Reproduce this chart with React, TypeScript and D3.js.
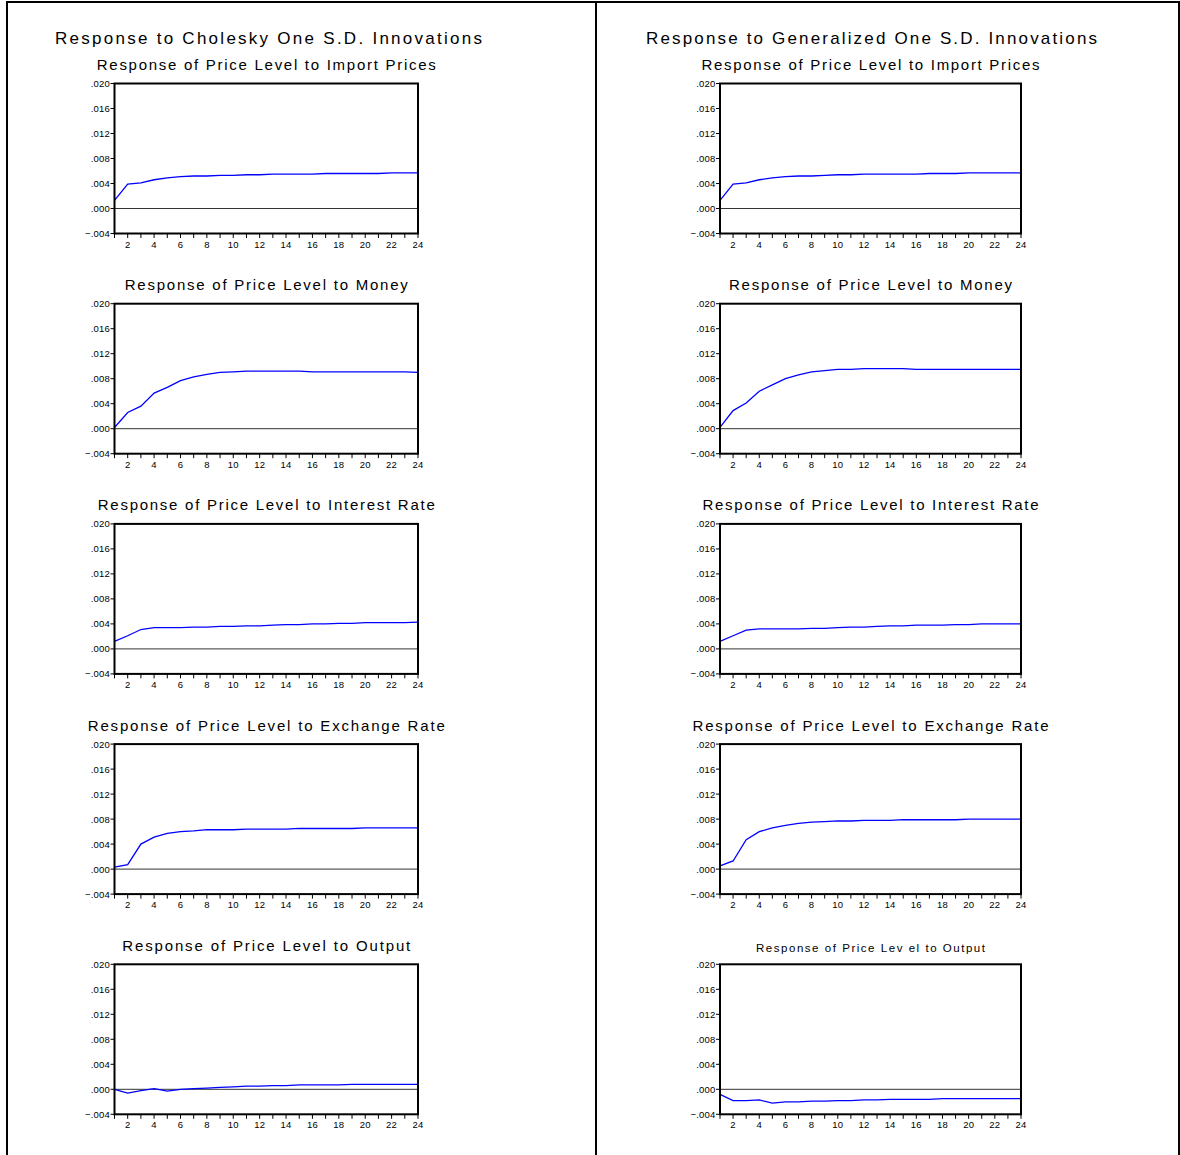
import React, { useRef, useEffect } from 'react';
import * as d3 from 'd3';

// periods and axis ticks
const periods = d3.range(1, 25);
const yTicks = [-0.004, 0, 0.004, 0.008, 0.012, 0.016, 0.02];
const xLabelTicks = [2, 4, 6, 8, 10, 12, 14, 16, 18, 20, 22, 24];

const leftHeader = 'Response to Cholesky One S.D. Innovations';
const rightHeader = 'Response to Generalized One S.D. Innovations';

const titles = [
  'Response of Price Level to Import Prices',
  'Response of Price Level to Money',
  'Response of Price Level to Interest Rate',
  'Response of Price Level to Exchange Rate',
  'Response of Price Level to Output',
];
const lastRightTitle = 'Response of Price Lev el to Output';

// Cholesky responses
const cholImport = [0.0013, 0.0039, 0.0041, 0.0046, 0.0049, 0.0051, 0.0052, 0.0052, 0.0053, 0.0053, 0.0054, 0.0054, 0.0055, 0.0055, 0.0055, 0.0055, 0.0056, 0.0056, 0.0056, 0.0056, 0.0056, 0.0057, 0.0057, 0.0057];
const cholMoney = [0.0002, 0.0026, 0.0036, 0.0057, 0.0066, 0.0077, 0.0083, 0.0087, 0.0090, 0.0091, 0.0092, 0.0092, 0.0092, 0.0092, 0.0092, 0.0091, 0.0091, 0.0091, 0.0091, 0.0091, 0.0091, 0.0091, 0.0091, 0.0090];
const cholInterest = [0.0012, 0.0021, 0.0031, 0.0034, 0.0034, 0.0034, 0.0035, 0.0035, 0.0036, 0.0036, 0.0037, 0.0037, 0.0038, 0.0039, 0.0039, 0.0040, 0.0040, 0.0041, 0.0041, 0.0042, 0.0042, 0.0042, 0.0042, 0.0043];
const cholExchange = [0.0003, 0.0007, 0.0040, 0.0051, 0.0057, 0.0060, 0.0061, 0.0063, 0.0063, 0.0063, 0.0064, 0.0064, 0.0064, 0.0064, 0.0065, 0.0065, 0.0065, 0.0065, 0.0065, 0.0066, 0.0066, 0.0066, 0.0066, 0.0066];
const cholOutput = [0.0000, -0.0006, -0.0002, 0.0001, -0.0003, 0.0000, 0.0001, 0.0002, 0.0003, 0.0004, 0.0005, 0.0005, 0.0006, 0.0006, 0.0007, 0.0007, 0.0007, 0.0007, 0.0008, 0.0008, 0.0008, 0.0008, 0.0008, 0.0008];

// Generalized responses
const genImport = [0.0013, 0.0039, 0.0041, 0.0046, 0.0049, 0.0051, 0.0052, 0.0052, 0.0053, 0.0054, 0.0054, 0.0055, 0.0055, 0.0055, 0.0055, 0.0055, 0.0056, 0.0056, 0.0056, 0.0057, 0.0057, 0.0057, 0.0057, 0.0057];
const genMoney = [0.0002, 0.0029, 0.0041, 0.0060, 0.0070, 0.0080, 0.0086, 0.0091, 0.0093, 0.0095, 0.0095, 0.0096, 0.0096, 0.0096, 0.0096, 0.0095, 0.0095, 0.0095, 0.0095, 0.0095, 0.0095, 0.0095, 0.0095, 0.0095];
const genInterest = [0.0012, 0.0021, 0.0030, 0.0032, 0.0032, 0.0032, 0.0032, 0.0033, 0.0033, 0.0034, 0.0035, 0.0035, 0.0036, 0.0037, 0.0037, 0.0038, 0.0038, 0.0038, 0.0039, 0.0039, 0.0040, 0.0040, 0.0040, 0.0040];
const genExchange = [0.0005, 0.0013, 0.0047, 0.0060, 0.0066, 0.0070, 0.0073, 0.0075, 0.0076, 0.0077, 0.0077, 0.0078, 0.0078, 0.0078, 0.0079, 0.0079, 0.0079, 0.0079, 0.0079, 0.0080, 0.0080, 0.0080, 0.0080, 0.0080];
const genOutput = [-0.0008, -0.0018, -0.0018, -0.0017, -0.0022, -0.0020, -0.0020, -0.0019, -0.0019, -0.0018, -0.0018, -0.0017, -0.0017, -0.0016, -0.0016, -0.0016, -0.0016, -0.0015, -0.0015, -0.0015, -0.0015, -0.0015, -0.0015, -0.0015];

const leftSeries = [cholImport, cholMoney, cholInterest, cholExchange, cholOutput];
const rightSeries = [genImport, genMoney, genInterest, genExchange, genOutput];

const W = 1180, H = 1155;
const FONT = 'Arial, "Liberation Sans", sans-serif';

const App = () => {
  const ref = useRef(null);

  useEffect(() => {
    const svg = d3.select(ref.current);
    svg.selectAll('*').remove();

    // outer frame
    const frame = svg.append('g').attr('stroke', '#000').attr('stroke-width', 2);
    frame.append('line').attr('x1', 6).attr('x2', 1179).attr('y1', 2).attr('y2', 2);
    frame.append('line').attr('x1', 7).attr('x2', 7).attr('y1', 1).attr('y2', H);
    frame.append('line').attr('x1', 596).attr('x2', 596).attr('y1', 1).attr('y2', H);
    frame.append('line').attr('x1', 1179).attr('x2', 1179).attr('y1', 1).attr('y2', H);

    const columns = [
      { x0: 114.5, x1: 418, header: leftHeader, hx: 55, hw: 427, series: leftSeries, tw: [339, 283, 337, 357, 288] },
      { x0: 720, x1: 1021, header: rightHeader, hx: 646, hw: 451, series: rightSeries, tw: [338, 283, 336, 356, 229] },
    ];

    columns.forEach((col, ci) => {
      svg.append('text')
        .attr('x', col.hx).attr('y', 44)
        .attr('font-family', FONT).attr('font-size', 17)
        .attr('textLength', col.hw).attr('lengthAdjust', 'spacing')
        .text(col.header);

      col.series.forEach((values, ri) => {
        const top = 83.5 + ri * 220.2;
        const bottom = top + 150;
        const x = d3.scaleLinear().domain([1, 24]).range([col.x0, col.x1]);
        const y = d3.scaleLinear().domain([-0.004, 0.02]).range([bottom, top]);
        const g = svg.append('g');

        const small = ci === 1 && ri === 4;
        g.append('text')
          .attr('x', (col.x0 + col.x1) / 2).attr('y', top - (small ? 12 : 13.5))
          .attr('text-anchor', 'middle')
          .attr('font-family', FONT).attr('font-size', small ? 11.5 : 15)
          .attr('textLength', col.tw[ri]).attr('lengthAdjust', 'spacing')
          .text(small ? lastRightTitle : titles[ri]);

        // zero line
        g.append('line')
          .attr('x1', col.x0).attr('x2', col.x1)
          .attr('y1', y(0)).attr('y2', y(0))
          .attr('stroke', '#333').attr('stroke-width', 1);

        // response line
        const line = d3.line<number>()
          .x((_, i) => x(periods[i]))
          .y(d => y(d));
        g.append('path')
          .datum(values)
          .attr('d', line)
          .attr('fill', 'none')
          .attr('stroke', '#0000ff')
          .attr('stroke-width', 1.3);

        // plot frame
        g.append('rect')
          .attr('x', col.x0).attr('y', top)
          .attr('width', col.x1 - col.x0).attr('height', bottom - top)
          .attr('fill', 'none').attr('stroke', '#000').attr('stroke-width', 2);

        // y axis ticks
        yTicks.forEach(t => {
          g.append('line')
            .attr('x1', col.x0 - 4).attr('x2', col.x0)
            .attr('y1', y(t)).attr('y2', y(t))
            .attr('stroke', '#000').attr('stroke-width', 1);
          g.append('text')
            .attr('x', col.x0 - 4.5).attr('y', y(t) + 3.5)
            .attr('text-anchor', 'end')
            .attr('font-family', FONT).attr('font-size', 9.5)
            .attr('letter-spacing', 0.2)
            .text(d3.format('.3f')(t).replace('0.', '.'));
        });

        // x axis ticks
        periods.forEach(p => {
          g.append('line')
            .attr('x1', x(p)).attr('x2', x(p))
            .attr('y1', bottom).attr('y2', bottom + 4.5)
            .attr('stroke', '#000').attr('stroke-width', 1);
        });
        xLabelTicks.forEach(p => {
          g.append('text')
            .attr('x', x(p)).attr('y', bottom + 14)
            .attr('text-anchor', 'middle')
            .attr('font-family', FONT).attr('font-size', 9.5)
            .attr('letter-spacing', 0.2)
            .text(p);
        });
      });
    });
  }, []);

  return (
    <svg
      ref={ref}
      width={W}
      height={H}
      style={{ position: 'absolute', left: 0, top: 0, background: '#fff' }}
    />
  );
};

export default App;
